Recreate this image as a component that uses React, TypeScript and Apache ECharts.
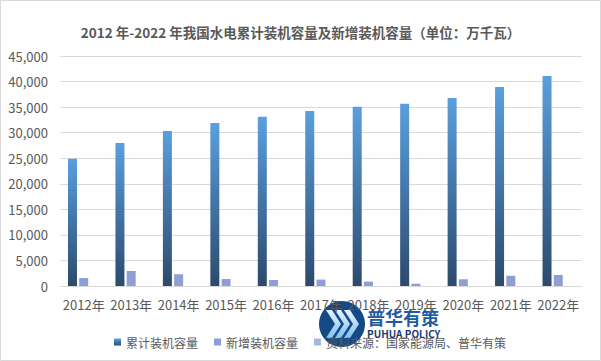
import React, { useEffect, useRef } from "react";
import * as echarts from "echarts";

const categories = ["2012年", "2013年", "2014年", "2015年", "2016年", "2017年", "2018年", "2019年", "2020年", "2021年", "2022年"];
const cumulative = [24890, 28000, 30350, 31900, 33100, 34250, 35050, 35650, 36800, 38950, 41100];
const added = [1550, 2950, 2300, 1370, 1170, 1250, 860, 450, 1320, 2000, 2150];
const sourceSeries = [null, null, null, null, null, null, null, null, null, null, null];
const seriesNames = ["累计装机容量", "新增装机容量", "资料来源：国家能源局、普华有策"];
const titleText = "2012 年-2022 年我国水电累计装机容量及新增装机容量（单位：万千瓦）";

const FONT = "'Noto Sans CJK SC', 'Microsoft YaHei', sans-serif";

function chevron(x: number, y0: number, y1: number) {
  const ym = (y0 + y1) / 2;
  return [
    [x, y0],
    [x + 6, y0],
    [x + 15, ym],
    [x + 6, y1],
    [x, y1],
    [x + 9, ym],
  ];
}

export default function App() {
  const ref = useRef<HTMLDivElement>(null);
  useEffect(() => {
    document.body.style.margin = "0";
    const chart = echarts.init(ref.current!, null, { renderer: "svg" });
    const chevColor = new echarts.graphic.LinearGradient(0, 0, 0, 1, [
      { offset: 0, color: "#e6f4ff" },
      { offset: 1, color: "#7fc0ee" },
    ]);
    chart.setOption({
      animation: false,
      backgroundColor: "#ffffff",
      title: {
        text: titleText,
        left: "center",
        top: 20,
        textStyle: { fontFamily: FONT, fontSize: 13.5, fontWeight: "bold", color: "#595959" },
      },
      grid: { left: 60, right: 19, top: 56, bottom: 75 },
      legend: {
        data: seriesNames,
        left: 109,
        top: 331,
        itemWidth: 7,
        itemHeight: 7,
        itemGap: 16,
        icon: "rect",
        textStyle: { fontFamily: FONT, fontSize: 12, color: "#595959" },
      },
      xAxis: {
        type: "category",
        data: categories,
        axisLine: { lineStyle: { color: "#d9d9d9" } },
        axisTick: { show: false },
        axisLabel: { fontFamily: FONT, fontSize: 13, color: "#595959", margin: 12, interval: 0 },
      },
      yAxis: {
        type: "value",
        min: 0,
        max: 45000,
        interval: 5000,
        axisLine: { show: false },
        axisTick: { show: false },
        splitLine: { lineStyle: { color: "#d9d9d9" } },
        axisLabel: {
          fontFamily: FONT,
          fontSize: 13,
          color: "#595959",
          margin: 12,
          formatter: (v: number) => v.toLocaleString("en-US"),
        },
      },
      series: [
        {
          name: seriesNames[0],
          type: "bar",
          data: cumulative,
          barWidth: 9,
          barGap: "25%",
          itemStyle: {
            color: new echarts.graphic.LinearGradient(0, 0, 0, 1, [
              { offset: 0, color: "#5a9fde" },
              { offset: 1, color: "#2c4a6c" },
            ]),
          },
        },
        {
          name: seriesNames[1],
          type: "bar",
          data: added,
          barWidth: 9,
          barGap: "25%",
          itemStyle: { color: "#8e9fd3" },
        },
        {
          name: seriesNames[2],
          type: "bar",
          data: sourceSeries,
          barWidth: 9,
          barGap: "25%",
          itemStyle: { color: "#a9b6de" },
        },
      ],
      graphic: [
        {
          type: "rect",
          shape: { x: 0.5, y: 0.5, width: 600, height: 360 },
          style: { fill: "none", stroke: "#d9d9d9", lineWidth: 1 },
          silent: true,
        },
        {
          type: "group",
          z: 100,
          children: [
            {
              type: "circle",
              shape: { cx: 342, cy: 324, r: 23 },
              style: { fill: "#134a86" },
            },
            { type: "polygon", shape: { points: chevron(326, 310, 338) }, style: { fill: chevColor } },
            { type: "polygon", shape: { points: chevron(335, 310, 338) }, style: { fill: chevColor } },
            { type: "polygon", shape: { points: chevron(344, 310, 338) }, style: { fill: chevColor } },
            {
              type: "text",
              x: 367,
              y: 317,
              style: {
                text: "普华有策",
                font: `bold 18px ${FONT}`,
                fill: "#1d5ca3",
                verticalAlign: "middle",
              },
            },
            {
              type: "text",
              x: 367,
              y: 333,
              style: {
                text: "PUHUA POLICY",
                font: `bold 10px ${FONT}`,
                fill: "#1a3d6e",
                verticalAlign: "middle",
              },
            },
          ],
        },
      ],
    });
    return () => chart.dispose();
  }, []);
  return <div ref={ref} style={{ width: 601, height: 361 }} />;
}
